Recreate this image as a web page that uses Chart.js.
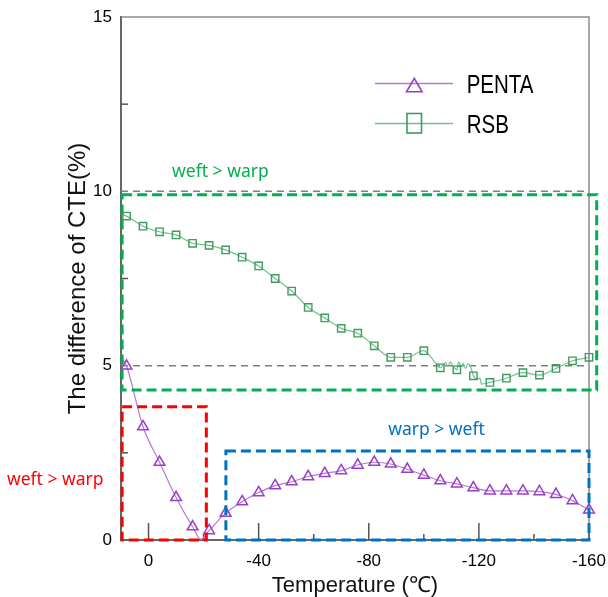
<!DOCTYPE html>
<html>
<head>
<meta charset="utf-8">
<script src="https://cdn.jsdelivr.net/npm/chart.js@4.4.1/dist/chart.umd.min.js"></script>
<style>
  html, body { margin: 0; padding: 0; background: #fff; }
  #wrap { width: 608px; height: 597px; }
</style>
</head>
<body>
<div id="wrap"><canvas id="cte" width="608" height="597"></canvas></div>
<script>
// ---- data -------------------------------------------------------------
// Measurement temperatures (°C) that carry a marker
const markerTemps = [8, 2, -4, -10, -16, -22, -28, -34, -40, -46, -52, -58, -64, -70,
  -76, -82, -88, -94, -100, -106, -112, -118, -124, -130, -136, -142, -148, -154, -160];

// Difference of CTE (%) at the marker temperatures
const pentaDiff = [4.99, 3.25, 2.23, 1.22, 0.38, 0.27, 0.77, 1.10, 1.36, 1.56, 1.67, 1.82,
  1.91, 1.99, 2.15, 2.23, 2.18, 2.03, 1.86, 1.70, 1.61, 1.50, 1.41, 1.41, 1.41, 1.39,
  1.31, 1.13, 0.86];
const rsbDiff = [9.29, 9.00, 8.84, 8.75, 8.51, 8.45, 8.32, 8.11, 7.86, 7.50, 7.14, 6.67,
  6.37, 6.07, 5.93, 5.57, 5.24, 5.24, 5.43, 4.94, 4.88, 4.71, 4.52, 4.64, 4.80, 4.73,
  4.92, 5.14, 5.24];

// Intermediate readings between markers (line only)
const pentaExtraTemp = [10, -19];
const pentaExtraDiff = [5.26, 0.02];
const rsbExtraTemp = [10, -102.4, -104.3, -107.9, -108.7, -109.7, -110.7, -112.7, -113.6,
  -114.3, -115.2, -116, -117, -119.4, -120.4, -120.9];
const rsbExtraDiff = [9.35, 5.26, 5.07, 5.09, 4.99, 5.11, 4.97, 5.11, 4.97, 5.07, 4.92,
  5.05, 4.97, 4.62, 4.64, 4.47];

// Axis ticks
const xTickValues = [0, -40, -80, -120, -160];
const xMinorTicks = [-20, -60, -100, -140];
const yTickValues = [0, 5, 10, 15];
const yMinorTicks = [2.5, 7.5, 12.5];

// Dashed reference levels (%)
const refLevels = [5, 10];

// Highlighted regions: [tempFrom, tempTo, diffFrom, diffTo]
const regionBounds = [
  [9.6, -162.8, 4.3, 9.9],
  [9.6, -21, 0, 3.82],
  [-28.1, -160, 0, 2.55]
];
const regionLabels = ['weft > warp', 'weft > warp', 'warp > weft'];
// label anchor in data units: [temp, diff]
const regionLabelAt = [[-26.1, 10.4], [33.9, 1.58], [-104.6, 3.02]];

const seriesNames = ['PENTA', 'RSB'];

// ---- helpers ----------------------------------------------------------
function buildPoints(temps, vals, extraT, extraV) {
  const pts = temps.map((t, i) => ({ x: t, y: vals[i], m: true }));
  extraT.forEach((t, i) => pts.push({ x: t, y: extraV[i], m: false }));
  pts.sort((a, b) => b.x - a.x);
  return pts;
}

const regionColors = ['#00b050', '#ff0000', '#0070c0'];
const SANS = "'Liberation Sans', Arial, sans-serif";
const NOTE = "'Noto Sans', 'Noto Sans CJK KR', sans-serif";

// ---- decorations ------------------------------------------------------
const decorations = {
  id: 'decorations',
  beforeDatasetsDraw(chart) {
    const { ctx, chartArea: a, scales: { x, y } } = chart;
    ctx.save();
    // frame top/right
    ctx.strokeStyle = '#8c8c8c';
    ctx.lineWidth = 1.5;
    ctx.beginPath();
    ctx.moveTo(a.left, a.top);
    ctx.lineTo(a.right, a.top);
    ctx.lineTo(a.right, a.bottom);
    ctx.stroke();
    // reference dashed levels
    ctx.strokeStyle = '#7f7f7f';
    ctx.lineWidth = 1.5;
    ctx.setLineDash([7, 5]);
    refLevels.forEach(v => {
      const py = y.getPixelForValue(v);
      ctx.beginPath();
      ctx.moveTo(a.left, py);
      ctx.lineTo(a.right, py);
      ctx.stroke();
    });
    ctx.setLineDash([]);
    // inward tick marks
    ctx.strokeStyle = '#555';
    ctx.lineWidth = 1.5;
    const tick = (x0, y0, x1, y1) => { ctx.beginPath(); ctx.moveTo(x0, y0); ctx.lineTo(x1, y1); ctx.stroke(); };
    xTickValues.forEach(v => { const px = x.getPixelForValue(v); tick(px, a.bottom, px, a.bottom - 17); });
    xMinorTicks.forEach(v => { const px = x.getPixelForValue(v); tick(px, a.bottom, px, a.bottom - 6); });
    yMinorTicks.forEach(v => { const py = y.getPixelForValue(v); tick(a.left, py, a.left + 7, py); });
    ctx.restore();
  },
  afterDatasetsDraw(chart) {
    const { ctx, scales: { x, y } } = chart;
    ctx.save();
    // region boxes
    ctx.lineWidth = 3;
    ctx.setLineDash([10, 5]);
    regionBounds.forEach((b, i) => {
      const x0 = x.getPixelForValue(b[0]), x1 = x.getPixelForValue(b[1]);
      const y0 = y.getPixelForValue(b[2]), y1 = y.getPixelForValue(b[3]);
      ctx.strokeStyle = regionColors[i];
      ctx.strokeRect(x0, y1, x1 - x0, y0 - y1);
    });
    ctx.setLineDash([]);
    // region labels
    ctx.font = '17.5px ' + NOTE;
    ctx.textAlign = 'center';
    ctx.textBaseline = 'alphabetic';
    regionLabels.forEach((t, i) => {
      ctx.fillStyle = regionColors[i];
      ctx.fillText(t, x.getPixelForValue(regionLabelAt[i][0]), y.getPixelForValue(regionLabelAt[i][1]));
    });
    ctx.restore();
  },
  afterDraw(chart) {
    const { ctx, chartArea: a } = chart;
    ctx.save();
    // legend
    const ds = chart.data.datasets;
    const rows = [
      { y: 83.5, my: 87.3, text: 92.7 },
      { y: 123.5, my: 123.3, text: 133.3 }
    ];
    rows.forEach((r, i) => {
      const d = ds[i];
      ctx.strokeStyle = d.borderColor;
      ctx.lineWidth = 1.3;
      ctx.beginPath();
      ctx.moveTo(375, r.y);
      ctx.lineTo(453, r.y);
      ctx.stroke();
      ctx.strokeStyle = d.pointBorderColor;
      ctx.lineWidth = 1.6;
      if (d.pointStyle === 'triangle') {
        const cx = 414.3, cy = r.my, rr = 9;
        ctx.beginPath();
        ctx.moveTo(cx, cy - rr);
        ctx.lineTo(cx + rr * Math.sqrt(3) / 2, cy + rr / 2);
        ctx.lineTo(cx - rr * Math.sqrt(3) / 2, cy + rr / 2);
        ctx.closePath();
        ctx.stroke();
      } else {
        ctx.strokeRect(407, 113.5, 14.5, 19.5);
      }
      ctx.fillStyle = '#000';
      ctx.font = '25px ' + SANS;
      ctx.textAlign = 'left';
      ctx.textBaseline = 'alphabetic';
      ctx.save();
      ctx.translate(466.7, r.text);
      ctx.scale(0.82, 1);
      ctx.fillText(seriesNames[i], 0, 0);
      ctx.restore();
    });
    // axis titles
    ctx.fillStyle = '#111';
    ctx.font = '24px ' + SANS;
    ctx.textAlign = 'center';
    ctx.textBaseline = 'alphabetic';
    ctx.save();
    ctx.translate(85, (a.top + a.bottom) / 2);
    ctx.rotate(-Math.PI / 2);
    ctx.fillText('The difference of CTE(%)', 0, 0);
    ctx.restore();
    ctx.font = '22px ' + SANS;
    ctx.fillText('Temperature (\u2103)', (a.left + a.right) / 2, 592);
    ctx.restore();
  }
};

// ---- chart ------------------------------------------------------------
new Chart(document.getElementById('cte'), {
  type: 'line',
  data: {
    datasets: [
      {
        label: seriesNames[0],
        data: buildPoints(markerTemps, pentaDiff, pentaExtraTemp, pentaExtraDiff),
        borderColor: '#b57ad6',
        borderWidth: 1.2,
        pointStyle: 'triangle',
        pointRadius: c => (c.raw && c.raw.m ? 6.2 : 0),
        pointBorderColor: '#9a3ec8',
        pointBackgroundColor: 'rgba(255,255,255,0)',
        pointBorderWidth: 1.5,
        cubicInterpolationMode: 'monotone',
        clip: false
      },
      {
        label: seriesNames[1],
        data: buildPoints(markerTemps, rsbDiff, rsbExtraTemp, rsbExtraDiff),
        borderColor: '#72c08c',
        borderWidth: 1.2,
        pointStyle: 'rect',
        pointRadius: c => (c.raw && c.raw.m ? 5.2 : 0),
        pointBorderColor: '#3f9b5f',
        pointBackgroundColor: 'rgba(255,255,255,0)',
        pointBorderWidth: 1.4,
        cubicInterpolationMode: 'monotone',
        clip: false
      }
    ]
  },
  options: {
    responsive: false,
    animation: false,
    devicePixelRatio: 1,
    layout: { padding: { top: 17, right: 19, left: 0, bottom: 0 } },
    plugins: { legend: { display: false }, tooltip: { enabled: false } },
    scales: {
      x: {
        type: 'linear',
        position: 'bottom',
        reverse: true,
        min: -160,
        max: 10,
        afterBuildTicks: s => { s.ticks = xTickValues.map(v => ({ value: v })); },
        afterFit: s => { s.height = 57; s.paddingLeft = 0; s.paddingRight = 0; },
        grid: { display: false, drawTicks: false },
        border: { display: true, color: '#666', width: 2 },
        ticks: { color: '#000', padding: 11, font: { family: SANS, size: 17 }, maxRotation: 0 }
      },
      y: {
        type: 'linear',
        position: 'left',
        min: 0,
        max: 15,
        afterBuildTicks: s => { s.ticks = yTickValues.map(v => ({ value: v })); },
        afterFit: s => { s.width = 121; s.paddingTop = 0; s.paddingBottom = 0; },
        grid: { display: false, drawTicks: false },
        border: { display: true, color: '#666', width: 2 },
        ticks: { color: '#000', padding: 9, font: { family: SANS, size: 17 } }
      }
    }
  },
  plugins: [decorations]
});
</script>
</body>
</html>
